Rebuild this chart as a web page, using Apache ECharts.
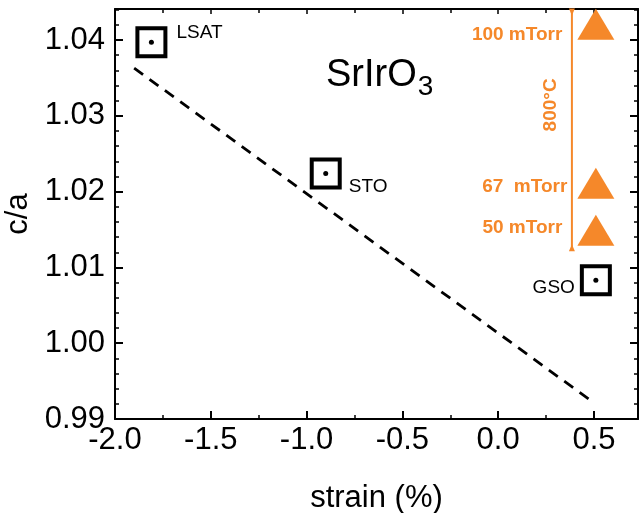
<!DOCTYPE html>
<html>
<head>
<meta charset="utf-8">
<script src="https://cdn.jsdelivr.net/npm/echarts@6/dist/echarts.min.js"></script>
<style>
html,body{margin:0;padding:0;background:#fff;}
#c{width:641px;height:513px;}
</style>
</head>
<body>
<div id="c"></div>
<script>
// Substrates (square markers)
const substrates = ['LSAT', 'STO', 'GSO'];
const subStrain = [-1.81, -0.90, 0.51];
const subCA = [1.0397, 1.0224, 1.0083];

// Pressure series (triangles)
const pressureLabels = ['100 mTorr', '67  mTorr', '50 mTorr'];
const presStrain = [0.51, 0.51, 0.51];
const presCA = [1.0421, 1.0211, 1.0149];

// Dashed guide line
const fitStrain = [-1.90, 0.48];
const fitCA = [1.0363, 0.9925];

// Orange bracket (800°C)
const bracketStrain = [0.385, 0.385];
const bracketCA = [1.0437, 1.0126];
const bracketLabel = '800°C';

const xTicks = { min: -2.0, max: 0.73, interval: 0.5 };
const yTicks = { min: 0.99, max: 1.0441, interval: 0.01 };

const ORANGE = '#F5882A';
const FONT = 'Liberation Sans, Arial, Helvetica, sans-serif';

const chart = echarts.init(document.getElementById('c'), null, { renderer: 'canvas' });

const axisCommon = {
  axisLine: { show: true, onZero: false, lineStyle: { color: '#000', width: 2 } },
  splitLine: { show: false },
};

const labelPos = [
  { position: 'right', distance: 9, offset: [0, -10] },
  { position: 'right', distance: 7, offset: [0, 13] },
  { position: 'left', distance: 5, offset: [0, 7] },
];
const presLabelOff = [[0, 11], [5, 3], [0, -3]];

const option = {
  backgroundColor: '#fff',
  animation: false,
  textStyle: { fontFamily: FONT },
  grid: { left: 115, right: 3, top: 9, bottom: 94, containLabel: false, outerBoundsMode: 'none' },
  title: {
    text: '{a|SrIrO}{b|3}',
    left: 321, top: 46,
    textStyle: {
      fontWeight: 'normal',
      rich: {
        a: { fontSize: 38, fontWeight: 'normal', fontFamily: FONT, color: '#000' },
        b: { fontSize: 28, fontWeight: 'normal', fontFamily: FONT, color: '#000', padding: [22, 0, 0, 1] }
      }
    }
  },
  xAxis: [
    Object.assign({
      type: 'value', min: xTicks.min, max: xTicks.max, interval: xTicks.interval,
      name: 'strain (%)', nameLocation: 'middle', nameGap: 64,
      nameTextStyle: { fontSize: 31, color: '#000', fontFamily: FONT },
      axisTick: { show: true, inside: true, length: 8, lineStyle: { color: '#000', width: 2 } },
      minorTick: { show: true, splitNumber: 2, length: 4, lineStyle: { color: '#000', width: 1.5 } },
      axisLabel: { fontSize: 31, color: '#000', margin: 6, fontFamily: FONT, showMaxLabel: false,
        formatter: v => v.toFixed(1) }
    }, axisCommon),
    Object.assign({
      type: 'value', position: 'top', min: xTicks.min, max: xTicks.max, interval: xTicks.interval,
      axisTick: { show: true, inside: true, length: 5, lineStyle: { color: '#000', width: 1.5 } },
      minorTick: { show: true, splitNumber: 2, length: 4, lineStyle: { color: '#000', width: 1.5 } },
      axisLabel: { show: false }
    }, axisCommon)
  ],
  yAxis: [
    Object.assign({
      type: 'value', min: yTicks.min, max: yTicks.max, interval: yTicks.interval,
      name: 'c/a', nameLocation: 'middle', nameGap: 78,
      nameTextStyle: { fontSize: 31, color: '#000', fontFamily: FONT },
      axisTick: { show: true, inside: true, length: 8, lineStyle: { color: '#000', width: 2 } },
      minorTick: { show: true, splitNumber: 5, length: 4, lineStyle: { color: '#000', width: 1.5 } },
      axisLabel: { fontSize: 31, color: '#000', margin: 10, fontFamily: FONT, showMaxLabel: false,
        formatter: v => v.toFixed(2) }
    }, axisCommon),
    Object.assign({
      type: 'value', position: 'right', min: yTicks.min, max: yTicks.max, interval: yTicks.interval,
      axisTick: { show: true, inside: true, length: 8, lineStyle: { color: '#000', width: 2 } },
      minorTick: { show: true, splitNumber: 5, length: 4, lineStyle: { color: '#000', width: 1.5 } },
      axisLabel: { show: false }
    }, axisCommon)
  ],
  series: [
    {
      type: 'line', name: 'fit', data: fitStrain.map((x, i) => [x, fitCA[i]]),
      symbol: 'none', lineStyle: { color: '#000', width: 2.8, type: [11, 8] }, z: 2
    },
    {
      type: 'line', name: 'bracket', data: bracketStrain.map((x, i) => ({
        value: [x, bracketCA[i]], symbolRotate: i === 0 ? 180 : 0
      })),
      symbol: 'triangle', symbolSize: [6, 7], showAllSymbol: true,
      lineStyle: { color: ORANGE, width: 2 }, itemStyle: { color: ORANGE, opacity: 1 }, z: 3
    },
    {
      type: 'scatter', name: 'bracketLabel',
      data: [{ value: [0.276, 1.03145], label: { show: true, formatter: bracketLabel } }],
      symbolSize: 0, itemStyle: { opacity: 1 },
      label: { show: true, position: 'inside', rotate: 90, color: ORANGE, fontSize: 19, fontWeight: 'bold', fontFamily: FONT }
    },
    {
      type: 'scatter', name: 'substrates',
      data: subStrain.map((x, i) => ({
        value: [x, subCA[i]],
        label: Object.assign({ show: true, formatter: substrates[i] }, labelPos[i])
      })),
      symbol: 'rect', symbolSize: 28,
      itemStyle: { color: '#fff', borderColor: '#000', borderWidth: 4, opacity: 1 },
      label: { color: '#000', fontSize: 19, fontFamily: FONT }, z: 4
    },
    {
      type: 'scatter', name: 'dots', data: subStrain.map((x, i) => [x, subCA[i]]),
      symbol: 'circle', symbolSize: 5, itemStyle: { color: '#000', opacity: 1 }, z: 5, silent: true
    },
    {
      type: 'scatter', name: 'pressure',
      data: presStrain.map((x, i) => ({
        value: [x, presCA[i]],
        label: { show: true, formatter: pressureLabels[i], offset: presLabelOff[i] }
      })),
      symbol: 'triangle', symbolSize: [37, 31],
      itemStyle: { color: ORANGE, opacity: 1 },
      label: { position: 'left', distance: 15, color: ORANGE, fontSize: 19, fontWeight: 'bold', fontFamily: FONT },
      z: 4
    }
  ]
};
chart.setOption(option);
</script>
</body>
</html>
